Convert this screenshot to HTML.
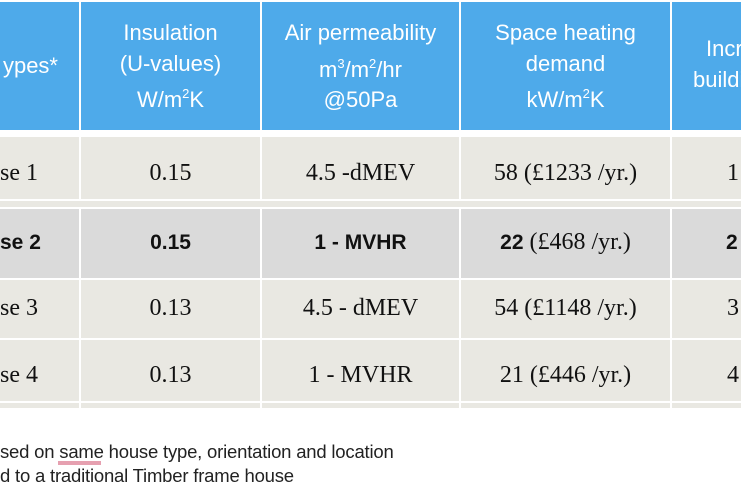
<!DOCTYPE html>
<html><head><style>
html,body{margin:0;padding:0}
body{width:741px;height:486px;overflow:hidden;background:#fff;position:relative;font-family:"Liberation Sans",sans-serif}
#w{position:absolute;left:0;top:0;width:741px;height:486px;overflow:hidden}
.b{position:absolute}
.h{background:#4eaaea;top:2px;height:128px}
.r1{background:#e9e8e2}
.r2{background:#dadada}
.t{position:absolute;color:#fff;font-size:22px;text-align:center;white-space:nowrap;line-height:22px}
.s{position:absolute;font-family:"Liberation Serif",serif;font-size:24px;color:#111;text-align:center;white-space:nowrap;line-height:26px}
.bold{font-weight:bold;font-family:"Liberation Sans",sans-serif;font-size:21px}
.L{left:0;width:36px;text-align:right}
sup{font-size:13px;vertical-align:9px;line-height:0}
.f{position:absolute;left:0;font-size:18.5px;color:#222;white-space:nowrap;letter-spacing:-0.2px}
</style></head><body><div id="w">
<div class="b h" style="left:0;width:79px"></div>
<div class="b h" style="left:81px;width:179px"></div>
<div class="b h" style="left:262px;width:197px"></div>
<div class="b h" style="left:461px;width:209px"></div>
<div class="b h" style="left:672px;width:69px"></div>
<div class="t" style="left:0;width:58px;text-align:right;top:55px">ypes*</div>
<div class="t" style="left:81px;width:179px;top:22px">Insulation</div>
<div class="t" style="left:81px;width:179px;top:53px">(U-values)</div>
<div class="t" style="left:81px;width:179px;top:89px">W/m<sup>2</sup>K</div>
<div class="t" style="left:262px;width:197px;top:22px">Air permeability</div>
<div class="t" style="left:262px;width:197px;top:59px">m<sup>3</sup>/m<sup>2</sup>/hr</div>
<div class="t" style="left:262px;width:197px;top:89px">@50Pa</div>
<div class="t" style="left:461px;width:209px;top:22px">Space heating</div>
<div class="t" style="left:461px;width:209px;top:53px">demand</div>
<div class="t" style="left:461px;width:209px;top:89px">kW/m<sup>2</sup>K</div>
<div class="t" style="left:706px;top:38px">Incremental</div>
<div class="t" style="left:693px;top:69px">building cost</div>

<div class="b r1" style="left:0;width:79px;top:137px;height:62px"></div>
<div class="b r1" style="left:81px;width:179px;top:137px;height:62px"></div>
<div class="b r1" style="left:262px;width:197px;top:137px;height:62px"></div>
<div class="b r1" style="left:461px;width:209px;top:137px;height:62px"></div>
<div class="b r1" style="left:672px;width:69px;top:137px;height:62px"></div>
<div class="b r1" style="left:0;width:741px;top:201px;height:6px"></div>
<div class="b r2" style="left:0;width:79px;top:209px;height:69px"></div>
<div class="b r2" style="left:81px;width:179px;top:209px;height:69px"></div>
<div class="b r2" style="left:262px;width:197px;top:209px;height:69px"></div>
<div class="b r2" style="left:461px;width:209px;top:209px;height:69px"></div>
<div class="b r2" style="left:672px;width:69px;top:209px;height:69px"></div>
<div class="b r1" style="left:0;width:79px;top:280px;height:58px"></div>
<div class="b r1" style="left:81px;width:179px;top:280px;height:58px"></div>
<div class="b r1" style="left:262px;width:197px;top:280px;height:58px"></div>
<div class="b r1" style="left:461px;width:209px;top:280px;height:58px"></div>
<div class="b r1" style="left:672px;width:69px;top:280px;height:58px"></div>
<div class="b r1" style="left:0;width:79px;top:340px;height:61px"></div>
<div class="b r1" style="left:81px;width:179px;top:340px;height:61px"></div>
<div class="b r1" style="left:262px;width:197px;top:340px;height:61px"></div>
<div class="b r1" style="left:461px;width:209px;top:340px;height:61px"></div>
<div class="b r1" style="left:672px;width:69px;top:340px;height:61px"></div>
<div class="b r1" style="left:0;width:79px;top:403px;height:5px"></div>
<div class="b r1" style="left:81px;width:179px;top:403px;height:5px"></div>
<div class="b r1" style="left:262px;width:197px;top:403px;height:5px"></div>
<div class="b r1" style="left:461px;width:209px;top:403px;height:5px"></div>
<div class="b r1" style="left:672px;width:69px;top:403px;height:5px"></div>

<div class="s L" style="top:160px">se 1</div>
<div class="s" style="left:81px;width:179px;top:160px">0.15</div>
<div class="s" style="left:262px;width:197px;top:160px">4.5 -dMEV</div>
<div class="s" style="left:461px;width:209px;top:160px">58 (£1233 /yr.)</div>
<div class="s" style="left:727px;top:160px">1</div>

<div class="s bold L" style="top:230px">se 2</div>
<div class="s bold" style="left:81px;width:179px;top:230px">0.15</div>
<div class="s bold" style="left:262px;width:197px;top:230px">1 - MVHR</div>
<div class="s" style="left:461px;width:209px;top:229px"><b style="font-family:'Liberation Sans',sans-serif;font-size:21px">22</b> (£468 /yr.)</div>
<div class="s bold" style="left:726px;top:230px">2</div>

<div class="s L" style="top:295px">se 3</div>
<div class="s" style="left:81px;width:179px;top:295px">0.13</div>
<div class="s" style="left:262px;width:197px;top:295px">4.5 - dMEV</div>
<div class="s" style="left:461px;width:209px;top:295px">54 (£1148 /yr.)</div>
<div class="s" style="left:727px;top:295px">3</div>

<div class="s L" style="top:362px">se 4</div>
<div class="s" style="left:81px;width:179px;top:362px">0.13</div>
<div class="s" style="left:262px;width:197px;top:362px">1 - MVHR</div>
<div class="s" style="left:461px;width:209px;top:362px">21 (£446 /yr.)</div>
<div class="s" style="left:727px;top:362px">4</div>

<div class="b" style="left:58px;top:461px;width:43px;height:4px;background:#e6a0b0"></div>
<div class="f" style="top:441px">sed on same house type, orientation and location</div>
<div class="f" style="top:465px">d to a traditional Timber frame house</div>
</div></body></html>
